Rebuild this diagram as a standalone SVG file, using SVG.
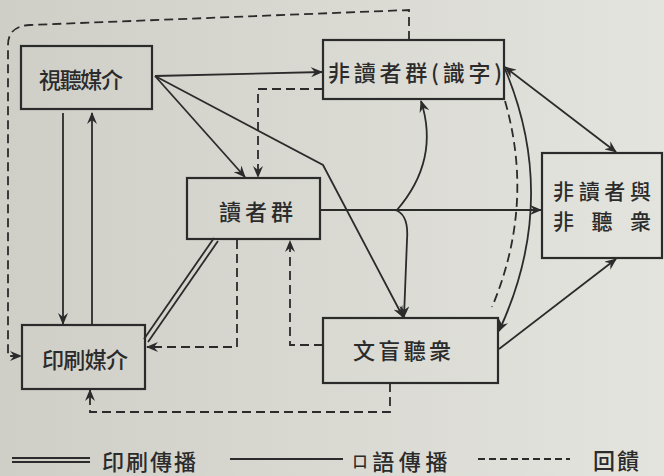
<svg xmlns="http://www.w3.org/2000/svg" width="664" height="476" viewBox="0 0 664 476">
<defs>
<linearGradient id="bg" x1="0" y1="0" x2="1" y2="0">
<stop offset="0" stop-color="#cfcfc8"/>
<stop offset="1" stop-color="#e4e4de"/>
</linearGradient>
<marker id="ah" viewBox="0 0 12 10" refX="11" refY="5" markerWidth="12" markerHeight="10" markerUnits="userSpaceOnUse" orient="auto-start-reverse">
<path d="M0,0 L12,5 L0,10 L4,5 z" fill="#2b2b2b"/>
</marker>
<style>
.box{fill:none;stroke:#2b2b2b;stroke-width:2.2}
.t{font-family:"Noto Sans CJK TC","Noto Sans CJK SC",sans-serif;font-size:22px;font-weight:500;fill:#2b2b2b;text-anchor:middle;dominant-baseline:central}
.s{fill:none;stroke:#2b2b2b;stroke-width:1.8}
.d{fill:none;stroke:#2b2b2b;stroke-width:1.8;stroke-dasharray:9 5}
.a{marker-end:url(#ah)}
</style>
</defs>
<rect width="664" height="476" fill="url(#bg)"/>

<g id="connectors">
<path class="d a" d="M409,40 V10 L30,25 Q8,26 8,45 V356 H21"/>
<path class="s a" d="M155,76 L322,72"/>
<path class="s a" d="M155,76 L245,177"/>
<path class="s a" d="M155,76 L323,165 L403,317"/>
<path class="s a" d="M63,113 V324"/>
<path class="s a" d="M92,324 V113"/>
<path class="d a" d="M323,89 H258 V177"/>
<path class="s a" d="M320,210 H541"/>
<path class="s a" d="M397,210 Q440,160 421,101"/>
<path class="s a" d="M395,210 Q409,214 407,240 L404,317"/>
<path class="s" d="M218,241 L148,342"/>
<path class="s" d="M214,238 L144,339"/>
<path class="d a" d="M237,240 V347 H147"/>
<path class="d a" d="M323,345 H290 V241"/>
<path class="d a" d="M390,383 V412 H90 V390"/>
<path class="s a" style="marker-start:url(#ah)" d="M505,67 L616,152"/>
<path class="s a" d="M505,69 Q560,200 499,331"/>
<path class="d" d="M505,101 Q535,205 492,307"/>
<path class="s a" d="M499,349 L616,259"/>
</g>

<g id="n-shiting">
<rect class="box" x="21" y="46" width="131" height="63"/>
<text class="t" x="81" y="78" textLength="84" lengthAdjust="spacing">視聽媒介</text>
</g>
<g id="n-feiduzhe">
<rect class="box" x="323" y="40" width="181" height="59"/>
<text class="t" x="415" y="71" textLength="174" lengthAdjust="spacing">非讀者群(識字)</text>
</g>
<g id="n-duzhe">
<rect class="box" x="187" y="178" width="133" height="61"/>
<text class="t" x="256" y="210" textLength="74" lengthAdjust="spacing">讀者群</text>
</g>
<g id="n-wenmang">
<rect class="box" x="323" y="318" width="175" height="65"/>
<text class="t" x="402" y="349" textLength="98" lengthAdjust="spacing">文盲聽衆</text>
</g>
<g id="n-yinshua">
<rect class="box" x="22" y="325" width="123" height="64"/>
<text class="t" x="85" y="358" textLength="86" lengthAdjust="spacing">印刷媒介</text>
</g>
<g id="n-feiting">
<rect class="box" x="542" y="153" width="120" height="105"/>
<text class="t" x="602" y="190" textLength="98" lengthAdjust="spacing" style="font-size:21px">非讀者與</text>
<text class="t" x="602" y="220" textLength="98" lengthAdjust="spacing" style="font-size:21px">非聽衆</text>
</g>

<g id="legend">
<path class="s" d="M12,458 H90 M12,462 H90"/>
<text class="t" x="149" y="460" textLength="94" lengthAdjust="spacing">印刷傳播</text>
<path class="s" d="M230,459 H343"/>
<text class="t" x="400" y="460" textLength="95" lengthAdjust="spacing"><tspan style="font-size:15px">口</tspan>語傳播</text>
<path class="d" d="M478,459 H570" style="stroke-dasharray:7 4"/>
<text class="t" x="616" y="459" textLength="46" lengthAdjust="spacing">回饋</text>
</g>
</svg>
